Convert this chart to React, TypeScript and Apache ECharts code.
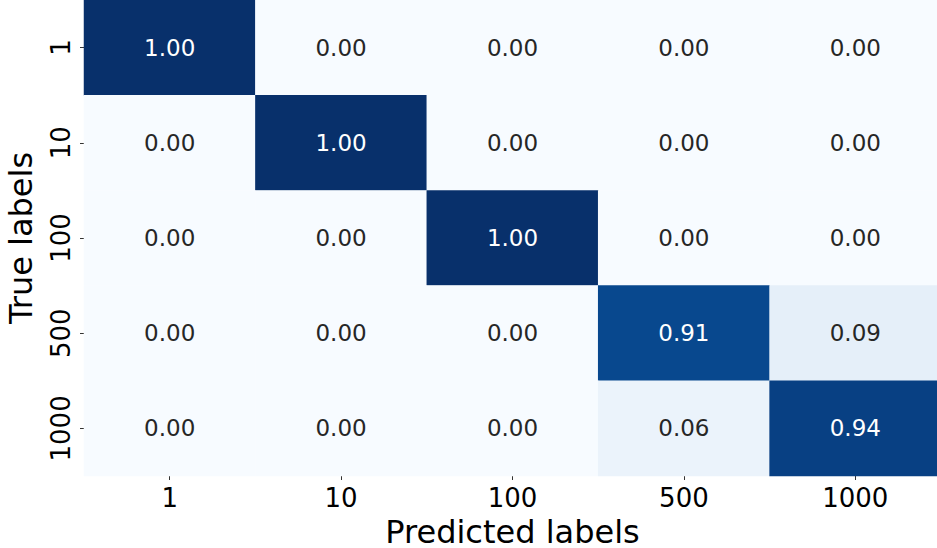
import React, { useEffect, useRef } from "react";
import * as echarts from "echarts";

// Class labels shared by both axes
const classLabels = ["1", "10", "100", "500", "1000"];

// Normalised confusion matrix, one row per true label
const rowTrue1 = [1.0, 0.0, 0.0, 0.0, 0.0];
const rowTrue10 = [0.0, 1.0, 0.0, 0.0, 0.0];
const rowTrue100 = [0.0, 0.0, 1.0, 0.0, 0.0];
const rowTrue500 = [0.0, 0.0, 0.0, 0.91, 0.09];
const rowTrue1000 = [0.0, 0.0, 0.0, 0.06, 0.94];
const matrixRows = [rowTrue1, rowTrue10, rowTrue100, rowTrue500, rowTrue1000];

// "Blues" colour ramp, evenly spaced from 0 to 1
const bluesRamp = [
  "#f7fbff",
  "#deebf7",
  "#c6dbef",
  "#9ecae1",
  "#6baed6",
  "#4292c6",
  "#2171b5",
  "#08519c",
  "#08306b",
];

const FONT = "DejaVu Sans";

export default function App() {
  const ref = useRef<HTMLDivElement>(null);

  useEffect(() => {
    if (!ref.current) return;
    const chart = echarts.init(ref.current, undefined, { renderer: "svg" });

    const data: any[] = [];
    matrixRows.forEach((row, y) => {
      row.forEach((v, x) => {
        data.push({
          value: [x, y, v],
          label: { color: v > 0.5 ? "#ffffff" : "#262626" },
        });
      });
    });

    chart.setOption({
      animation: false,
      backgroundColor: "#ffffff",
      grid: {
        left: 84,
        top: 0,
        right: -4,
        bottom: 72,
        containLabel: false,
        outerBoundsMode: "none",
      },
      xAxis: {
        type: "category",
        data: classLabels,
        name: "Predicted labels",
        nameLocation: "middle",
        nameGap: 40,
        nameTextStyle: {
          fontFamily: FONT,
          fontSize: 32,
          lineHeight: 30,
          color: "#000",
        },
        axisLine: { show: false },
        axisTick: {
          show: true,
          alignWithLabel: true,
          length: 4,
          lineStyle: { color: "#333", width: 1 },
        },
        axisLabel: { fontFamily: FONT, fontSize: 26, color: "#000", margin: 9 },
        splitLine: { show: false },
      },
      yAxis: {
        type: "category",
        data: classLabels,
        inverse: true,
        name: "True labels",
        nameLocation: "middle",
        nameGap: 47,
        nameRotate: 90,
        nameTextStyle: { fontFamily: FONT, fontSize: 32, color: "#000" },
        axisLine: { show: false },
        axisTick: {
          show: true,
          alignWithLabel: true,
          length: 4,
          lineStyle: { color: "#333", width: 1 },
        },
        axisLabel: {
          fontFamily: FONT,
          fontSize: 26,
          color: "#000",
          rotate: 90,
          margin: 10,
        },
        splitLine: { show: false },
      },
      visualMap: {
        show: false,
        type: "continuous",
        min: 0,
        max: 1,
        dimension: 2,
        inRange: { color: bluesRamp },
      },
      series: [
        {
          type: "heatmap",
          data,
          label: {
            show: true,
            fontFamily: FONT,
            fontSize: 23,
            formatter: (p: any) => Number(p.value[2]).toFixed(2),
          },
          itemStyle: { borderWidth: 0 },
          emphasis: { disabled: true },
        },
      ],
    });

    return () => chart.dispose();
  }, []);

  return (
    <div
      ref={ref}
      style={{ position: "fixed", left: 0, top: 0, width: 937, height: 548 }}
    />
  );
}
